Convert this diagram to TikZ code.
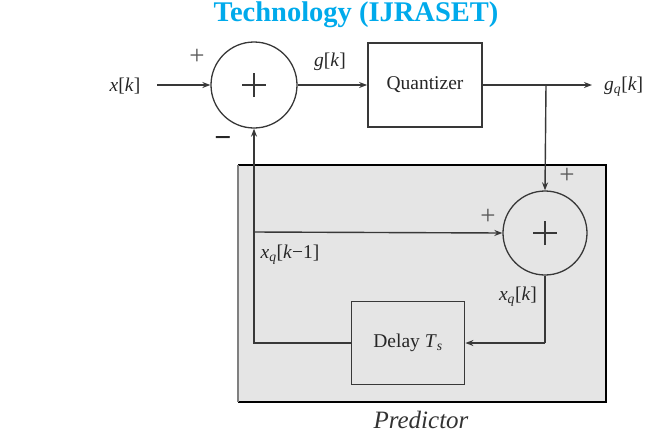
\documentclass[tikz,border=0pt]{standalone}
\usepackage{fontspec}
\setmainfont{Liberation Serif}
\usetikzlibrary{arrows.meta}
\definecolor{titlecyan}{RGB}{0,170,235}
\definecolor{linec}{gray}{0.22}
\definecolor{predfill}{gray}{0.9}
\begin{document}
\begin{tikzpicture}[x=1pt,y=-1pt,
  conn/.style={draw=linec,line width=1.4pt},
  arr/.style={conn,-{Stealth[length=8pt,width=6pt]}},
  sumnode/.style={circle,draw=linec,line width=1.3pt,minimum size=#1,inner sep=0pt,
    path picture={\draw[linec,line width=1.2pt]
      ([xshift=-12pt]path picture bounding box.center) -- ([xshift=12pt]path picture bounding box.center)
      ([yshift=-12pt]path picture bounding box.center) -- ([yshift=12pt]path picture bounding box.center);}},
  blockbox/.style={draw=linec,line width=1.8pt,minimum width=#1,inner sep=0pt},
  lbl/.style={font=\fontsize{19.5}{22}\selectfont,inner sep=0pt,text=black!85},
  sgn/.style={font=\fontsize{27}{29}\selectfont,inner sep=0pt,text=black!65}
]
\useasboundingbox (0,0) rectangle (664,440);
% title
\node[font=\fontsize{28.5}{31}\selectfont\bfseries,text=titlecyan,inner sep=0pt,anchor=base] (title) at (356,21.5) {Technology (IJRASET)};
% predictor box
\path[fill=predfill] (238,165) rectangle (606,402);
\draw[line width=1.8pt,black] (238,165) -- (606,165) -- (606,402) -- (238,402);
\draw[line width=2.6pt,gray] (238,165) -- (238,402);
\node[font=\fontsize{25}{28}\selectfont\itshape,inner sep=0pt,text=black!80] (pred) at (421,420) {Predictor};
% nodes
\node[lbl] (xk) at (125,86) {\textit{x}[\textit{k}]};
\node[sumnode=86pt] (s1) at (254,85) {};
\node[lbl] (gk) at (330,62) {\textit{g}[\textit{k}]};
\node[blockbox=114pt,minimum height=84pt,lbl] (quant) at (425,85) {Quantizer};
\coordinate (branch) at (546,85);
\coordinate (outend) at (592,85);
\node[lbl,anchor=west] (gqk) at (604,87) {\textit{g}\textsubscript{\textit{q}}[\textit{k}]};
\node[sumnode=84pt,fill=predfill] (s2) at (545,233) {};
\node[blockbox=113pt,minimum height=83pt,lbl,fill=predfill] (delay) at (408,343) {Delay \textit{T}\textsubscript{\textit{s}}};
\coordinate (fbcorner) at (254,343);
\coordinate (tap) at (254,232);
\coordinate (s2corner) at (545,343);
\node[lbl] (xqk) at (518,297) {\textit{x}\textsubscript{\textit{q}}[\textit{k}]};
\node[lbl] (xqk1) at (290,255) {\textit{x}\textsubscript{\textit{q}}[\textit{k}−1]};
% signs
\node[sgn] (p1) at (197,57) {+};
\node[font=\fontsize{30}{32}\selectfont\bfseries,inner sep=0pt,text=black!85] (m1) at (223,142) {−};
\node[sgn] (p2) at (567,176) {+};
\node[sgn] (p3) at (488,217) {+};
% connectors
\draw[arr] (157,85) -- (s1.west);
\draw[arr] (s1.east) -- (quant.west);
\draw[conn] (quant.east) -- (branch);
\draw[arr] (branch) -- (outend);
\draw[arr] (branch) -- (s2.north);
\draw[conn] (s2.south) -- (s2corner);
\draw[arr] (s2corner) -- (delay.east);
\draw[arr] (delay.west) -- (fbcorner) -- (s1.south);
\draw[arr] (tap) -- (s2.west);
\end{tikzpicture}
\end{document}
